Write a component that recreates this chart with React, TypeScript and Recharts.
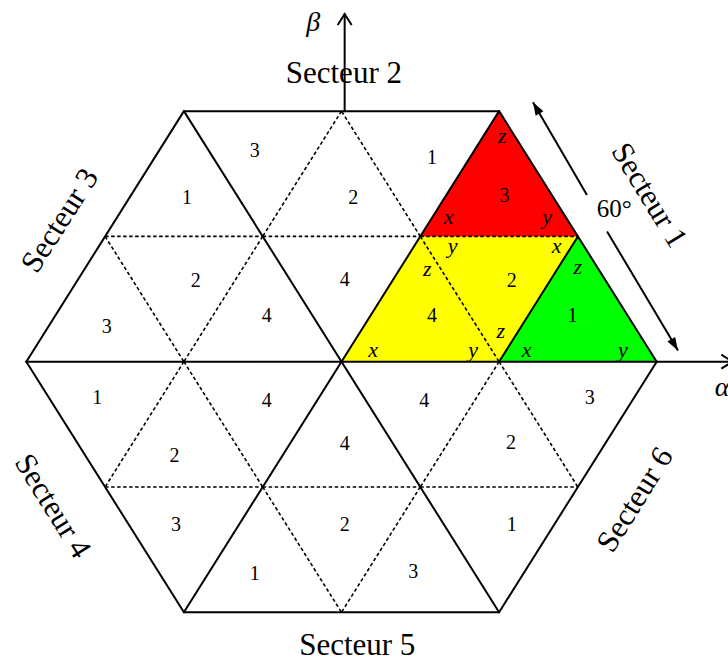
import React from 'react';
import { ScatterChart, XAxis, YAxis, Scatter, ReferenceLine, ReferenceArea } from 'recharts';

const W = 728;
const H = 664;
const X_DOMAIN: [number, number] = [-4.334, 4.905];
const Y_DOMAIN: [number, number] = [-2.413, 2.887];
const FONT = '"Liberation Serif", "Times New Roman", serif';

// Lattice coordinates: x in quarters of the hexagon half-width, y in rows
const hexagon: number[][] = [[4, 0], [2, 2], [-2, 2], [-4, 0], [-2, -2], [2, -2], [4, 0]];
const spokes: number[][] = [[-4, 0, 4, 0], [-2, 2, 2, -2], [2, 2, -2, -2]];
const solidInner: number[][] = [[2, 0, 3, 1]];
const dashedInner: number[][] = [
  [1, 1, 3, 1], [1, 1, 2, 0],
  [1, 1, 0, 2], [0, 2, -1, 1], [-1, 1, 1, 1],
  [-3, 1, -1, 1], [-3, 1, -2, 0], [-1, 1, -2, 0],
  [-3, -1, -1, -1], [-2, 0, -3, -1], [-2, 0, -1, -1],
  [-1, -1, 1, -1], [-1, -1, 0, -2], [1, -1, 0, -2],
  [1, -1, 3, -1], [2, 0, 1, -1], [2, 0, 3, -1],
];
const redZone: number[][] = [[1, 1], [3, 1], [2, 2]];
const yellowZone: number[][] = [[0, 0], [2, 0], [3, 1], [1, 1]];
const greenZone: number[][] = [[2, 0], [4, 0], [3, 1]];

const betaAxis: number[] = [0.04, 2, 0.04, 2.775];
const alphaAxis: number[] = [4, 0, 4.96, 0];
const axisTips = [
  { x: 0.04, y: 2.775, t: 'up' },
  { x: 4.96, y: 0, t: 'right' },
];
const angleArrow = [
  { from: [2.43, 2.07], to: [3.115, 1.33], head: 'start' },
  { from: [3.37, 1.04], to: [4.27, 0.09], head: 'end' },
];

const numberLabels = [
  { x: 2.07, y: 1.33, t: '3' }, { x: 2.16, y: 0.65, t: '2' }, { x: 1.15, y: 0.37, t: '4' }, { x: 2.93, y: 0.37, t: '1' },
  { x: -1.1, y: 1.69, t: '3' }, { x: 1.15, y: 1.63, t: '1' }, { x: 0.15, y: 1.31, t: '2' }, { x: 0.04, y: 0.66, t: '4' },
  { x: -1.96, y: 1.31, t: '1' }, { x: -1.85, y: 0.65, t: '2' }, { x: -2.98, y: 0.28, t: '3' }, { x: -0.95, y: 0.37, t: '4' },
  { x: -3.1, y: -0.28, t: '1' }, { x: -2.12, y: -0.75, t: '2' }, { x: -2.1, y: -1.3, t: '3' }, { x: -0.95, y: -0.31, t: '4' },
  { x: 0.04, y: -0.65, t: '4' }, { x: 0.04, y: -1.3, t: '2' }, { x: -1.1, y: -1.69, t: '1' }, { x: 0.91, y: -1.67, t: '3' },
  { x: 1.05, y: -0.31, t: '4' }, { x: 3.15, y: -0.28, t: '3' }, { x: 2.15, y: -0.64, t: '2' }, { x: 2.16, y: -1.3, t: '1' },
];
const vectorLabels = [
  { x: 2.04, y: 1.79, t: 'z' }, { x: 1.36, y: 1.14, t: 'x' }, { x: 2.61, y: 1.14, t: 'y' },
  { x: 1.41, y: 0.91, t: 'y' }, { x: 2.73, y: 0.91, t: 'x' }, { x: 1.09, y: 0.73, t: 'z' },
  { x: 2.02, y: 0.23, t: 'z' }, { x: 0.4, y: 0.08, t: 'x' }, { x: 1.67, y: 0.08, t: 'y' },
  { x: 3.0, y: 0.74, t: 'z' }, { x: 2.35, y: 0.08, t: 'x' }, { x: 3.57, y: 0.08, t: 'y' },
];
const sectorLabels = [
  { x: 3.91, y: 1.33, t: 'Secteur 1' },
  { x: 0.03, y: 2.31, t: 'Secteur 2' },
  { x: -3.58, y: 1.13, t: 'Secteur 3' },
  { x: -3.66, y: -1.15, t: 'Secteur 4' },
  { x: 0.2, y: -2.26, t: 'Secteur 5' },
  { x: 3.72, y: -1.1, t: 'Secteur 6' },
];
const sectorAngle: Record<string, number> = {
  'Secteur 1': 58.5, 'Secteur 2': 0, 'Secteur 3': -57.5,
  'Secteur 4': 58, 'Secteur 5': 0, 'Secteur 6': -58,
};
const angleLabel = [{ x: 3.46, y: 1.22, t: '60°' }];
const axisLabels = [
  { x: -0.36, y: 2.71, t: 'β' },
  { x: 4.83, y: -0.21, t: 'α' },
];

function polyArea(pts: number[][], fill: string, key: string) {
  const xs = pts.map((p) => p[0]);
  const ys = pts.map((p) => p[1]);
  const x1 = Math.min(...xs), x2 = Math.max(...xs), y1 = Math.min(...ys), y2 = Math.max(...ys);
  return (
    <ReferenceArea
      key={key}
      x1={x1} x2={x2} y1={y1} y2={y2}
      ifOverflow="visible"
      zIndex={50}
      shape={(p: any) => {
        const d = pts
          .map(([vx, vy], i) => `${i ? 'L' : 'M'}${p.x + ((vx - x1) / (x2 - x1)) * p.width},${p.y + ((y2 - vy) / (y2 - y1)) * p.height}`)
          .join('') + 'Z';
        return <path d={d} fill={fill} stroke="none" />;
      }}
    />
  );
}

function seg(s: number[], key: string, dashed: boolean) {
  return (
    <ReferenceLine
      key={key}
      segment={[{ x: s[0], y: s[1] }, { x: s[2], y: s[3] }]}
      stroke="#000"
      strokeWidth={dashed ? 1.6 : 2}
      strokeDasharray={dashed ? '3.5 2.5' : undefined}
      strokeLinecap={dashed ? 'butt' : 'round'}
      ifOverflow="visible"
      zIndex={300}
    />
  );
}

function arrowArea(a: { from: number[]; to: number[]; head: string }, key: string) {
  const x1 = Math.min(a.from[0], a.to[0]), x2 = Math.max(a.from[0], a.to[0]);
  const y1 = Math.min(a.from[1], a.to[1]), y2 = Math.max(a.from[1], a.to[1]);
  return (
    <ReferenceArea
      key={key}
      x1={x1} x2={x2} y1={y1} y2={y2}
      ifOverflow="visible"
      zIndex={300}
      shape={(p: any) => {
        const sx = p.x, sy = p.y, ex = p.x + p.width, ey = p.y + p.height;
        const ang = Math.atan2(ey - sy, ex - sx);
        const L = 13, hw = 4.5;
        const tip = a.head === 'start' ? [sx, sy] : [ex, ey];
        const dir = a.head === 'start' ? 1 : -1;
        const bx = tip[0] + dir * L * Math.cos(ang), by = tip[1] + dir * L * Math.sin(ang);
        const nx = -Math.sin(ang) * hw, ny = Math.cos(ang) * hw;
        return (
          <g>
            <line x1={sx} y1={sy} x2={ex} y2={ey} stroke="#000" strokeWidth={2} />
            <path d={`M${tip[0]},${tip[1]}L${bx + nx},${by + ny}L${bx - nx},${by - ny}Z`} fill="#000" />
          </g>
        );
      }}
    />
  );
}

const textShape = (size: number, italic: boolean, dyFactor: number) => (p: any) => {
  const t = p.payload?.t ?? '';
  const rot = sectorAngle[t] ?? 0;
  return (
    <text
      x={p.cx}
      y={p.cy}
      dy={size * dyFactor}
      textAnchor="middle"
      fontSize={size}
      fontStyle={italic ? 'italic' : 'normal'}
      fontFamily={FONT}
      fill="#000"
      transform={rot ? `rotate(${rot} ${p.cx} ${p.cy})` : undefined}
    >
      {t}
    </text>
  );
};

const tipShape = (p: any) => {
  const t = p.payload?.t;
  const x = p.cx, y = p.cy;
  const d = t === 'up'
    ? `M${x - 7},${y + 11}L${x},${y}L${x + 7},${y + 11}`
    : `M${x - 11},${y - 7}L${x},${y}L${x - 11},${y + 7}`;
  return <path d={d} fill="none" stroke="#000" strokeWidth={2} />;
};

export default function App() {
  const hexSegs = hexagon.slice(0, -1).map((p, i) => [p[0], p[1], hexagon[i + 1][0], hexagon[i + 1][1]]);
  return (
    <div style={{ position: 'absolute', left: 0, top: 0, width: W, height: H, background: '#fff' }}>
      <ScatterChart width={W} height={H} margin={{ top: 0, right: 0, bottom: 0, left: 0 }}>
        <XAxis type="number" dataKey="x" domain={X_DOMAIN} allowDataOverflow hide />
        <YAxis type="number" dataKey="y" domain={Y_DOMAIN} allowDataOverflow hide />
        {polyArea(yellowZone, '#FFFF00', 'yellow')}
        {polyArea(redZone, '#FF0000', 'red')}
        {polyArea(greenZone, '#00FF00', 'green')}
        {dashedInner.map((s, i) => seg(s, `d${i}`, true))}
        {solidInner.map((s, i) => seg(s, `si${i}`, false))}
        {spokes.map((s, i) => seg(s, `sp${i}`, false))}
        {hexSegs.map((s, i) => seg(s, `h${i}`, false))}
        {seg(betaAxis, 'beta', false)}
        {seg(alphaAxis, 'alpha', false)}
        {angleArrow.map((a, i) => arrowArea(a, `arr${i}`))}
        <Scatter data={axisTips} isAnimationActive={false} shape={tipShape} />
        <Scatter data={numberLabels} isAnimationActive={false} shape={textShape(20, false, 0.34)} />
        <Scatter data={vectorLabels} isAnimationActive={false} shape={textShape(22, true, 0.24)} />
        <Scatter data={sectorLabels} isAnimationActive={false} shape={textShape(31, false, 0.33)} />
        <Scatter data={angleLabel} isAnimationActive={false} shape={textShape(25, false, 0.34)} />
        <Scatter data={axisLabels} isAnimationActive={false} shape={textShape(28, true, 0.3)} />
      </ScatterChart>
    </div>
  );
}
